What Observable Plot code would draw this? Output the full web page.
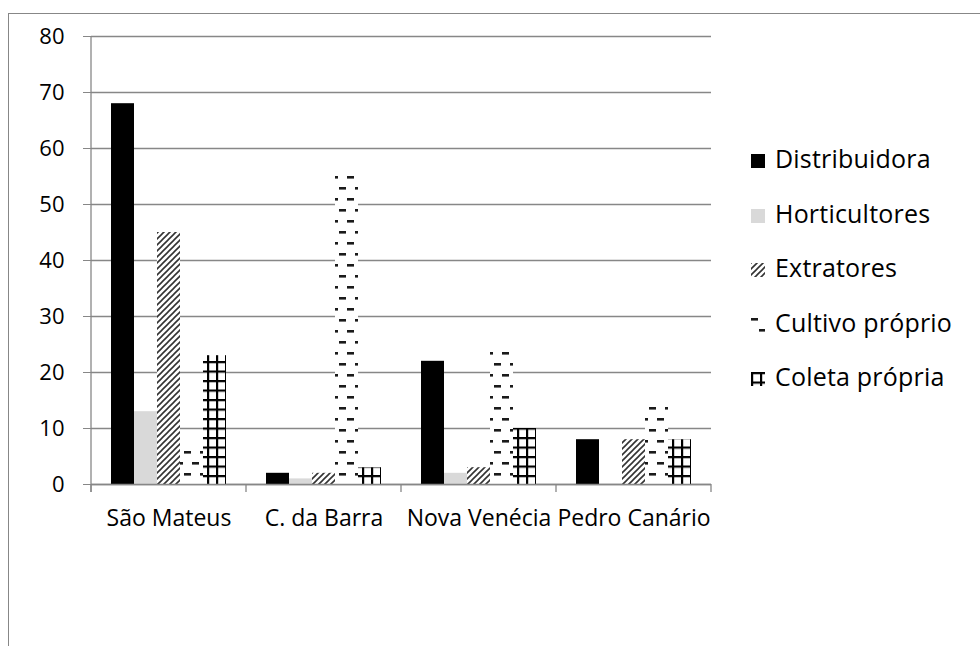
<!DOCTYPE html>
<html><head><meta charset="utf-8">
<script src="https://cdn.jsdelivr.net/npm/d3@7"></script>
<script src="https://cdn.jsdelivr.net/npm/@observablehq/plot@0.6"></script>
<style>
body{margin:0;background:#fff;font-family:"Open Sans",sans-serif;}
#wrap{position:relative;width:980px;height:646px;overflow:hidden;background:#fff;}
#border{position:absolute;left:8px;top:13px;width:1200px;height:1000px;border:1px solid #878787;box-sizing:border-box;}
#chart{position:absolute;left:0;top:0;}
#legend{position:absolute;left:0;top:0;}
.row{position:absolute;left:751px;display:flex;align-items:center;font-size:25px;color:#000;white-space:nowrap;letter-spacing:0.2px;}
.row svg{margin-right:10px;margin-top:6px;}
</style></head>
<body>
<svg width="0" height="0" style="position:absolute">
 <defs>
  <pattern id="pExtr" patternUnits="userSpaceOnUse" width="6" height="6">
   <rect width="6" height="6" fill="#fff"/>
   <path d="M0,6 L6,0 M-1,1 L1,-1 M5,7 L7,5" stroke="#333" stroke-width="1.6"/>
  </pattern>
  <pattern id="pCult" patternUnits="userSpaceOnUse" width="16" height="22">
   <rect width="16" height="22" fill="#fff"/>
   <rect x="0" y="0" width="7" height="2.6" fill="#1a1a1a"/>
   <rect x="8" y="11" width="7" height="2.6" fill="#1a1a1a"/>
  </pattern>
  <pattern id="pCol" patternUnits="userSpaceOnUse" width="9" height="9.5">
   <rect width="9" height="9.5" fill="#fff"/>
   <rect x="0" y="0" width="2.2" height="9.5" fill="#000"/>
   <rect x="0" y="0" width="9" height="2.2" fill="#000"/>
  </pattern>
 </defs>
</svg>
<div id="wrap">
 <div id="border"></div>
 <div id="chart"></div>
 <div id="legend"></div>
</div>
<script>
const cities = ["São Mateus", "C. da Barra", "Nova Venécia", "Pedro Canário"];
const series = ["Distribuidora", "Horticultores", "Extratores", "Cultivo próprio", "Coleta própria"];
const distribuidora = [68, 2, 22, 8];
const horticultores = [13, 1, 2, 0];
const extratores = [45, 2, 3, 8];
const cultivoProprio = [7, 55, 24, 15];
const coletaPropria = [23, 3, 10, 8];
const yTicks = [0, 10, 20, 30, 40, 50, 60, 70, 80];
const fills = ["#000000", "#d9d9d9", "url(#pExtr)", "url(#pCult)", "url(#pCol)"];

const seriesValues = [distribuidora, horticultores, extratores, cultivoProprio, coletaPropria];
const data = cities.flatMap((c, i) => series.map((s, j) => ({city: c, series: s, value: seriesValues[j][i]})));

const plot = Plot.plot({
  width: 980, height: 646,
  marginLeft: 91, marginRight: 269, marginTop: 36, marginBottom: 162,
  style: {fontFamily: "Open Sans", fontSize: "22px", color: "#000", background: "transparent", overflow: "visible"},
  fx: {domain: cities, padding: 0, label: null},
  x: {domain: series, paddingInner: 0, paddingOuter: 0.73, axis: null},
  y: {domain: [0, 80]},
  color: {domain: series, range: fills},
  marks: [
    Plot.gridY(yTicks, {stroke: "#878787", strokeOpacity: 1, strokeWidth: 1.3}),
    Plot.barY(data, {fx: "city", x: "series", y: "value", fill: "series"}),
    Plot.ruleY([0], {stroke: "#878787", strokeWidth: 1.3}),
    Plot.axisY(yTicks, {tickSize: 8, tickPadding: 19, stroke: "#878787", fill: "#000", fontSize: 22, label: null}),
    Plot.axisFx({anchor: "bottom", tickSize: 0, tickPadding: 25, fill: "#000", fontSize: 23, label: null})
  ]
});
document.getElementById("chart").appendChild(plot);

// axis line and category boundary ticks drawn from the plot's own scales
const fx = plot.scale("fx"), y = plot.scale("y");
const svg = d3.select(plot);
const g = svg.append("g").attr("stroke", "#878787").attr("stroke-width", 1.3);
const x0 = fx.apply(cities[0]);
g.append("line").attr("x1", x0).attr("x2", x0).attr("y1", y.apply(80)).attr("y2", y.apply(0) + 8);
const edges = cities.map(c => fx.apply(c)).concat([fx.apply(cities[cities.length - 1]) + fx.bandwidth]);
edges.forEach(e => g.append("line").attr("x1", e).attr("x2", e).attr("y1", y.apply(0)).attr("y2", y.apply(0) + 8));

// legend
const legend = document.getElementById("legend");
series.forEach((s, i) => {
  const row = document.createElement("div");
  row.className = "row";
  row.style.top = (141 + i * 54.5) + "px";
  row.innerHTML = `<svg width="14" height="14"><rect width="14" height="14" fill="${fills[i]}"/></svg><span>${s}</span>`;
  legend.appendChild(row);
});
</script>
</body></html>
